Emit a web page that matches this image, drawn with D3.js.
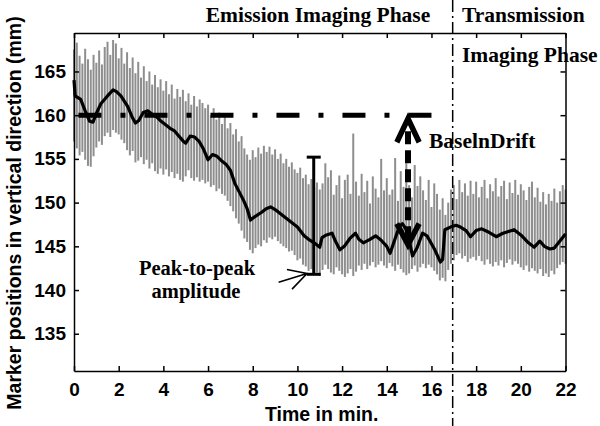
<!DOCTYPE html>
<meta charset="utf-8">
<style>
body { margin: 0; background: #fff; }
svg { display: block; }
.axis path, .axis line { fill: none; stroke: #000; stroke-width: 1.5; }
.axis text { font-family: Arial, "Liberation Sans", sans-serif; font-weight: bold; font-size: 19px; fill: #000; }
.lbl { font-family: Arial, "Liberation Sans", sans-serif; font-weight: bold; font-size: 19.5px; fill: #000; }
.ann { font-family: "Times New Roman", "Liberation Serif", serif; font-weight: bold; font-size: 21.5px; fill: #000; }
.ann.small { font-size: 20.5px; }
</style>
<body>
<svg id="chart" width="600" height="426"></svg>

<script src="https://cdn.jsdelivr.net/npm/d3@7/dist/d3.min.js"></script>
<script>

// sampling step of the grey range bars (minutes)
var dt = 0.125;

// upper end of each grey bar, one row per minute
var hi = [
  167.5, 168.3, 166.8, 165.9, 167.6, 166.4, 165.2, 166.9,
  166.0, 167.4, 165.8, 167.8, 168.4, 166.9, 168.6, 168.2,
  166.5, 167.7, 165.9, 167.2, 165.4, 166.6, 164.8, 166.1,
  164.3, 165.6, 163.9, 165.0, 163.5, 164.6, 163.2, 164.1,
  162.8, 163.9, 162.4, 163.5, 161.9, 163.0, 162.1, 162.9,
  161.6, 162.5, 161.2, 162.2, 161.0, 161.8, 161.4, 160.8,
  161.2, 160.0, 160.8, 159.5, 160.3, 159.0, 159.8, 158.5,
  159.1, 157.8, 158.4, 157.0, 157.6, 156.2, 155.5, 154.9,
  156.0, 155.2, 156.3, 155.6, 156.5, 155.8, 156.4, 155.5,
  156.1, 155.0, 155.6, 154.5, 155.0, 154.1, 154.6, 153.8,
  153.4, 154.0, 152.8, 153.2, 152.1, 152.7, 151.8, 152.3,
  151.5, 152.2, 154.5, 152.9, 153.7, 150.9, 152.0, 153.1,
  150.5, 152.6, 153.2, 151.0, 157.9, 152.4, 150.8, 153.3,
  151.2, 152.5, 149.9, 153.0, 151.6, 150.6, 155.0, 151.4,
  152.8, 150.9, 151.5, 155.1, 150.2, 153.6, 151.8, 154.5,
  152.0, 150.6, 154.3, 151.9, 153.0, 151.4, 150.3, 152.6,
  149.5, 152.2, 151.0, 149.2, 150.5, 148.6, 150.0, 151.5,
  152.0, 150.4, 152.6, 151.2, 152.2, 150.8, 152.5, 151.0,
  152.4, 150.6, 151.8, 152.6, 150.5, 152.1, 151.3, 152.8,
  150.7, 151.9, 152.5, 150.4, 152.3, 151.1, 152.6, 150.9,
  152.1, 151.4, 150.3, 151.8, 152.4, 150.6, 151.7, 150.1,
  151.2, 149.8, 151.0, 150.2, 151.6, 150.0, 151.3, 152.0,
  151.5
];

// lower end of each grey bar
var lo = [
  157.0, 156.2, 155.4, 155.8, 154.9, 154.2, 154.1, 155.3,
  156.3, 157.0, 156.6, 157.6, 158.0, 157.5, 158.3, 158.0,
  157.8, 157.2, 156.8, 156.0, 155.4, 155.9, 154.6, 154.8,
  155.2, 154.4, 154.9, 153.9, 154.5, 153.6, 153.3, 153.9,
  153.2, 153.8, 153.0, 153.5, 152.8, 153.3, 152.6, 152.4,
  153.0, 153.7, 152.8, 152.5, 152.9, 152.4, 152.6, 152.2,
  152.4, 151.8, 152.0, 151.3, 151.6, 151.0, 150.8, 150.2,
  149.6, 149.0, 148.2, 147.6, 146.8, 145.9, 145.5, 144.6,
  144.2, 144.8, 145.2, 145.0, 145.7, 145.4, 146.0, 145.8,
  146.1, 145.6, 145.3, 145.0, 144.8, 144.4, 144.5, 144.0,
  143.4, 143.6, 142.9, 142.7, 142.2, 142.4, 141.9, 142.0,
  141.6, 142.3, 142.9, 142.4, 142.0, 141.8, 142.6, 142.2,
  141.8, 141.5, 141.9, 142.4, 141.6, 142.1, 142.8, 142.3,
  143.0, 142.4, 142.8, 143.2, 142.6, 142.9, 143.3, 142.8,
  142.5, 143.1, 142.7, 142.2, 142.9, 142.4, 142.0, 141.7,
  141.9, 142.4, 142.8, 142.1, 142.6, 143.0, 142.5, 142.9,
  142.6, 142.2, 141.8, 141.1, 141.4, 141.0, 142.3, 143.0,
  143.4, 144.0, 144.2, 143.6, 143.9, 143.2, 143.6, 143.8,
  143.4, 143.9, 143.3, 142.9, 143.5, 143.0, 142.7, 143.2,
  142.8, 143.4, 142.6, 143.1, 143.5, 142.9, 143.3, 143.0,
  142.6, 142.3, 142.8, 142.1, 142.5, 142.2, 141.9, 142.4,
  141.6, 141.9, 141.5, 142.2, 141.8, 142.5, 142.9, 143.2,
  143.0
];

// black running mean: times (min) and positions (mm)
var meanT = [0, 0.05, 0.3, 0.5, 0.7, 0.85, 1.0, 1.2, 1.5, 1.75, 1.9, 2.1, 2.4, 2.6, 2.75, 2.9,
  3.1, 3.3, 3.5, 3.7, 3.9, 4.1, 4.3, 4.5, 4.7, 4.9, 5.0, 5.2, 5.4, 5.6, 5.8, 6.0,
  6.2, 6.4, 6.6, 6.8, 7.0, 7.2, 7.4, 7.6, 7.75, 7.9, 8.1, 8.4, 8.6, 8.8, 9.0, 9.3,
  9.6, 9.8, 10.0, 10.3, 10.5, 10.75, 11.0, 11.1, 11.3, 11.55, 11.7, 11.9, 12.1, 12.35,
  12.6, 12.75, 12.95, 13.25, 13.5, 13.75, 14.0, 14.15, 14.35, 14.55, 14.7, 14.85, 15.0, 15.15,
  15.35, 15.6, 15.8, 16.0, 16.15, 16.4, 16.5, 16.6, 16.85, 17.1, 17.3, 17.55, 17.75, 18.0,
  18.25, 18.5, 18.9, 19.2, 19.45, 19.7, 20.0, 20.3, 20.6, 20.85, 21.05, 21.3, 21.5, 21.75, 22.0];
var meanV = [164.0, 162.2, 161.8, 160.5, 159.3, 159.2, 160.2, 161.3, 162.2, 162.9, 162.7, 162.2, 161.0, 159.8, 159.1, 159.4,
  160.3, 160.5, 160.1, 159.8, 159.3, 158.9, 158.5, 158.2, 157.6, 157.0, 156.8, 157.6, 157.5, 157.0, 156.1, 154.9,
  155.5, 155.3, 154.8, 154.4, 153.7, 152.2, 151.2, 150.2, 149.3, 148.0, 148.4, 148.9, 149.3, 149.5, 149.2, 148.6,
  148.0, 147.6, 147.2, 146.2, 145.8, 145.4, 144.9, 146.0, 146.3, 146.5, 145.6, 144.6, 145.0, 145.9,
  146.5, 145.8, 145.4, 145.8, 146.2, 145.7, 145.0, 144.2, 145.7, 147.2, 147.6, 147.0, 145.7, 143.9,
  144.8, 146.5, 146.2, 145.3, 144.6, 143.2, 143.5, 146.9, 147.2, 147.4, 147.2, 146.8, 146.1, 146.8,
  147.0, 146.7, 146.1, 146.5, 146.7, 146.9, 146.3, 145.5, 144.9, 145.6, 145.0, 144.7, 144.8, 145.6, 146.4];

var xTicks = [0, 2, 4, 6, 8, 10, 12, 14, 16, 18, 20, 22];
var yTicks = [135, 140, 145, 150, 155, 160, 165];

// annotation values
var baseline = 160, baseStart = 0.2, baseEnd = 16.05;
var driftT = 14.95, driftLow = 145.2, driftHigh = 159.6;
var p2pT = 10.73, p2pLow = 141.8, p2pHigh = 155.2;
var phaseT = 16.95;

var svg = d3.select("#chart"),
    width = +svg.attr("width"),
    height = +svg.attr("height"),
    margin = {top: 33, right: 35, bottom: 55, left: 74};

var x = d3.scaleLinear().domain([0, 22]).range([margin.left, width - margin.right + 0.5]);
var y = d3.scaleLinear().domain([130.74, 169.4]).range([height - margin.bottom, margin.top]);

// grey range bars
svg.append("g").selectAll("line")
    .data(hi)
    .enter().append("line")
    .attr("x1", function(d, i) { return x(i * dt); })
    .attr("x2", function(d, i) { return x(i * dt); })
    .attr("y1", function(d) { return y(d); })
    .attr("y2", function(d, i) { return y(lo[i]); })
    .attr("stroke", "#8e8e8e")
    .attr("stroke-width", 2);

// running mean
var line = d3.line()
    .x(function(d, i) { return x(meanT[i]); })
    .y(function(d) { return y(d); });
svg.append("path")
    .datum(meanV)
    .attr("d", line)
    .attr("fill", "none")
    .attr("stroke", "#000")
    .attr("stroke-width", 3.2)
    .attr("stroke-linejoin", "round");

// axes box with inward ticks
svg.append("g").attr("class", "axis")
    .attr("transform", "translate(0," + y.range()[0] + ")")
    .call(d3.axisBottom(x).tickValues(xTicks).tickSizeInner(-5).tickSizeOuter(0).tickPadding(12));
svg.append("g").attr("class", "axis")
    .attr("transform", "translate(0," + y.range()[1] + ")")
    .call(d3.axisTop(x).tickValues(xTicks).tickSizeInner(-5).tickSizeOuter(0).tickFormat(""));
svg.append("g").attr("class", "axis")
    .attr("transform", "translate(" + x.range()[0] + ",0)")
    .call(d3.axisLeft(y).tickValues(yTicks).tickSizeInner(-5).tickSizeOuter(0).tickPadding(8));
svg.append("g").attr("class", "axis")
    .attr("transform", "translate(" + x.range()[1] + ",0)")
    .call(d3.axisRight(y).tickValues(yTicks).tickSizeInner(-5).tickSizeOuter(0).tickFormat(""));

// axis titles
svg.append("text").attr("class", "lbl")
    .attr("x", (x.range()[0] + x.range()[1]) / 2 + 2).attr("y", 421)
    .attr("text-anchor", "middle")
    .text("Time in min.");
svg.append("text").attr("class", "lbl")
    .attr("transform", "translate(21,213) rotate(-90)")
    .attr("text-anchor", "middle")
    .text("Marker positions in vertical direction (mm)");

// phase separator
svg.append("line")
    .attr("x1", x(phaseT)).attr("x2", x(phaseT))
    .attr("y1", 0).attr("y2", height)
    .attr("stroke", "#000").attr("stroke-width", 1.5)
    .attr("stroke-dasharray", "12,4,2,4");

// baseline dash-dot
svg.append("line")
    .attr("x1", x(baseStart)).attr("x2", x(baseEnd))
    .attr("y1", y(baseline)).attr("y2", y(baseline))
    .attr("stroke", "#000").attr("stroke-width", 5)
    .attr("stroke-dasharray", "23,19,5,19");

// baseline drift double arrow
svg.append("line")
    .attr("x1", x(driftT)).attr("x2", x(driftT))
    .attr("y1", y(driftLow + 0.6)).attr("y2", y(driftHigh - 0.6))
    .attr("stroke", "#000").attr("stroke-width", 6)
    .attr("stroke-dasharray", "13,6");
[[driftHigh, -2.7], [driftLow, 2.4]].forEach(function(a) {
  svg.append("path")
      .attr("d", d3.line()([
        [x(driftT - 0.5), y(a[0] + a[1])],
        [x(driftT), y(a[0])],
        [x(driftT + 0.5), y(a[0] + a[1])]
      ]))
      .attr("fill", "none").attr("stroke", "#000")
      .attr("stroke-width", 5.5).attr("stroke-linejoin", "miter");
});

// peak-to-peak I-bar
var pp = svg.append("g").attr("stroke", "#000").attr("stroke-width", 3).attr("fill", "none");
pp.append("line").attr("x1", x(p2pT)).attr("x2", x(p2pT)).attr("y1", y(p2pLow)).attr("y2", y(p2pHigh));
[p2pLow, p2pHigh].forEach(function(v) {
  pp.append("line").attr("x1", x(p2pT) - 7).attr("x2", x(p2pT) + 7).attr("y1", y(v)).attr("y2", y(v));
});

// small open arrow pointing at the bar
svg.append("path")
    .attr("d", d3.line()([[x(9.16), y(140.9)], [x(10.43), y(141.9)]]) +
               d3.line()([[x(9.53), y(142.35)], [x(10.43), y(141.9)], [x(9.76), y(140.1)]]))
    .attr("fill", "none").attr("stroke", "#000").attr("stroke-width", 1.6);

// annotations
svg.append("text").attr("class", "ann").attr("x", 318).attr("y", 22).attr("text-anchor", "middle").text("Emission Imaging Phase");
svg.append("text").attr("class", "ann").attr("x", 462).attr("y", 22).text("Transmission");
svg.append("text").attr("class", "ann").attr("x", 462).attr("y", 62).text("Imaging Phase");
svg.append("text").attr("class", "ann").attr("x", 429).attr("y", 148).text("BaselnDrift");
svg.append("text").attr("class", "ann small").attr("x", 197).attr("y", 275).attr("text-anchor", "middle").text("Peak-to-peak");
svg.append("text").attr("class", "ann small").attr("x", 196).attr("y", 298).attr("text-anchor", "middle").text("amplitude");

</script>
</body>
